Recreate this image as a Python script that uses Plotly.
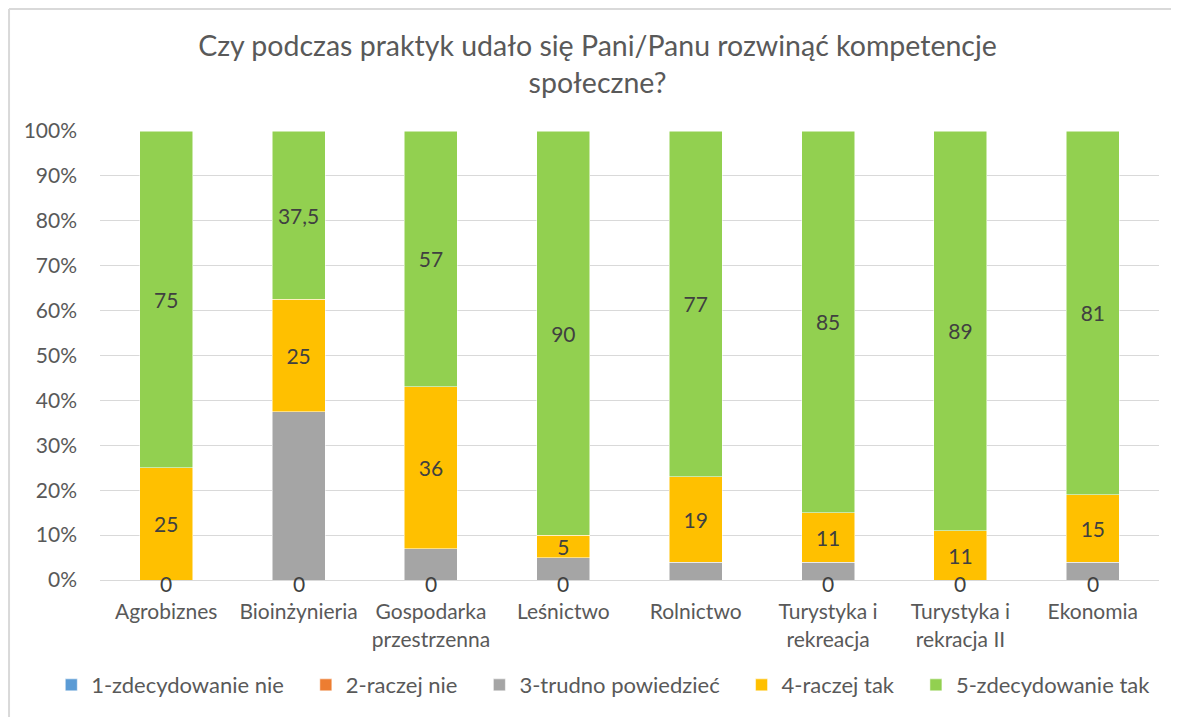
import plotly.graph_objects as go

categories = ["Agrobiznes", "Bioinżynieria", "Gospodarka<br>przestrzenna", "Leśnictwo",
              "Rolnictwo", "Turystyka i<br>rekreacja", "Turystyka i<br>rekracja II", "Ekonomia"]

series_names = ["1-zdecydowanie nie", "2-raczej nie", "3-trudno powiedzieć",
                "4-raczej tak", "5-zdecydowanie tak"]
v1 = [0, 0, 0, 0, 0, 0, 0, 0]
v2 = [0, 0, 0, 0, 0, 0, 0, 0]
v3 = [0, 37.5, 7, 5, 4, 4, 0, 4]
v4 = [25, 25, 36, 5, 19, 11, 11, 15]
v5 = [75, 37.5, 57, 90, 77, 85, 89, 81]
zero_labels = ["0", "0", "0", "0", "", "0", "0", "0"]

colors = ["#5B9BD5", "#ED7D31", "#A5A5A5", "#FFC000", "#92D050"]
show_labels = [False, False, False, True, True]

FONT = "Lato"
GREY = "#595959"
SIZE = 21
PAD = "\u00a0\u00a0\u00a0"  # extra room between legend entries


def fmt(v):
    if v == 0:
        return ""
    return ("%g" % v).replace(".", ",")


fig = go.Figure()
n = len(series_names)
for i, (name, vals, col, lab) in enumerate(zip(series_names, [v1, v2, v3, v4, v5], colors, show_labels)):
    fig.add_trace(go.Bar(
        x=categories, y=vals, name=name + (PAD if i < n - 1 else ""),
        marker=dict(color=col, line=dict(color="white", width=0.5)),
        text=[fmt(v) for v in vals] if lab else None,
        textposition="inside", insidetextanchor="middle", textangle=0,
        textfont=dict(family=FONT, size=SIZE, color="#404040"),
        constraintext="none",
        hovertemplate="%{x}<br>" + name + ": %{y}<extra></extra>",
    ))

# "0" labels sitting on the baseline
for cat, lab in zip(categories, zero_labels):
    if lab:
        fig.add_annotation(x=cat, y=0, text=lab, showarrow=False, yanchor="middle",
                           yshift=-3, font=dict(family=FONT, size=SIZE, color="#404040"))

fig.update_layout(
    barmode="stack",
    bargap=0.6,
    width=1179, height=717,
    paper_bgcolor="white", plot_bgcolor="white",
    font=dict(family=FONT, size=SIZE, color=GREY),
    title=dict(text="Czy podczas praktyk udało się Pani/Panu rozwinąć kompetencje<br>społeczne?",
               x=0.5, xanchor="center", y=0.933, yanchor="middle",
               font=dict(family=FONT, size=28.5, color=GREY)),
    margin=dict(l=92, r=28, t=123, b=145, autoexpand=False),
    legend=dict(orientation="h", x=-0.046, xanchor="left",
                y=-0.234, yanchor="middle", font=dict(family=FONT, size=22, color=GREY),
                traceorder="normal"),
    showlegend=True,
    uniformtext=dict(mode="show", minsize=SIZE),
)
fig.update_yaxes(range=[0, 100], dtick=10, ticksuffix="%", showgrid=True,
                 gridcolor="#D9D9D9", gridwidth=1, zeroline=False,
                 ticklabelstandoff=22, tickfont=dict(size=SIZE, color=GREY))
fig.update_xaxes(showline=True, linecolor="#D9D9D9", linewidth=1, tickangle=0,
                 ticklabelstandoff=13, tickfont=dict(size=SIZE, color=GREY))

# chart frame (top and left edges visible)
fig.add_shape(type="line", xref="paper", yref="paper", x0=-0.0859, x1=1.05, y0=1.2717, y1=1.2717,
              line=dict(color="#D9D9D9", width=2))
fig.add_shape(type="line", xref="paper", yref="paper", x0=-0.0859, x1=-0.0859, y0=-0.35, y1=1.2717,
              line=dict(color="#D9D9D9", width=2))

fig.write_html("out.html")
